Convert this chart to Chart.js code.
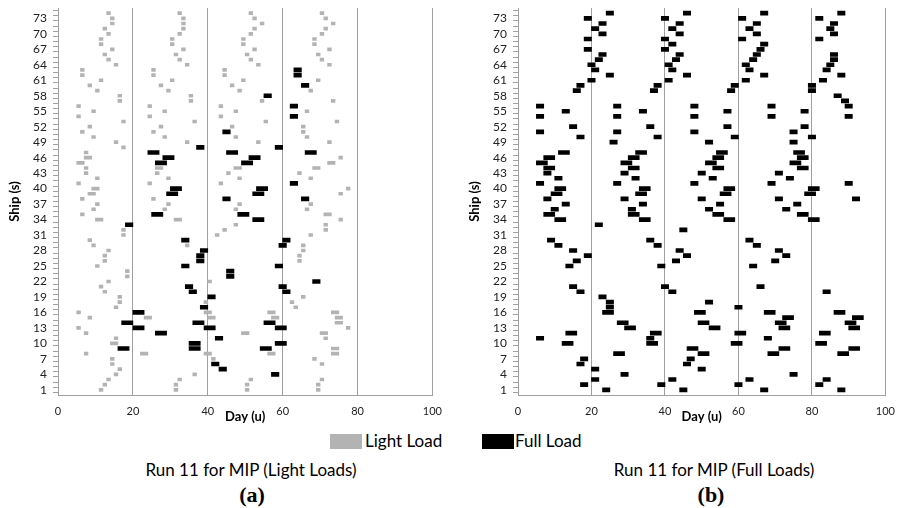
<!DOCTYPE html>
<html>
<head>
<meta charset="utf-8">
<script src="https://cdn.jsdelivr.net/npm/chart.js@4.4.1/dist/chart.umd.min.js"></script>
<style>
  body { margin: 0; background: #fff; width: 905px; height: 508px; position: relative; overflow: hidden;
         font-family: Lato, "Open Sans", sans-serif; color: #000; }
  canvas { position: absolute; top: 0; }
  .txt { position: absolute; font-size: 17px; line-height: 20px; white-space: nowrap; }
  .cap { position: absolute; font-size: 17px; line-height: 20px; white-space: nowrap; transform: translateX(-50%); }
  .sub { position: absolute; font-family: "Liberation Serif", serif; font-weight: bold; font-size: 22px;
         line-height: 26px; transform: translateX(-50%); }
  .swatch { position: absolute; width: 32px; height: 15px; top: 434px; }
</style>
</head>
<body>
<canvas id="chartA" width="452" height="425" style="left:0;"></canvas>
<canvas id="chartB" width="445" height="425" style="left:460px;"></canvas>

<div class="swatch" style="left:330px;background:#b3b3b3;"></div>
<div class="txt" style="left:365px;top:431px;">Light Load</div>
<div class="swatch" style="left:482px;background:#000;"></div>
<div class="txt" style="left:515px;top:431px;">Full Load</div>

<div class="cap" style="left:251px;top:460px;">Run 11 for MIP (Light Loads)</div>
<div class="cap" style="left:714px;top:460px;">Run 11 for MIP (Full Loads)</div>
<div class="sub" style="left:252px;top:482px;">(a)</div>
<div class="sub" style="left:711px;top:482px;">(b)</div>

<script>
/* chart data: [ship, start day, end day] */
const dayTicks = [0, 20, 40, 60, 80, 100];
const shipTicks = [1, 4, 7, 10, 13, 16, 19, 22, 25, 28, 31, 34, 37, 40, 43, 46, 49, 52, 55, 58, 61, 64, 67, 70, 73];

/* Run 11, light loads (a) - grey marks */
const lightLoadsA = [
  [74, 13, 14], [74, 32, 33], [74, 51, 52], [74, 70, 71],
  [73, 14, 15], [73, 33, 34], [73, 52, 53], [73, 71, 72],
  [72, 14, 15], [72, 33, 34], [72, 54, 55], [72, 73, 74],
  [71, 12, 13], [71, 33, 34], [71, 52, 53], [71, 71, 72],
  [70, 13, 14], [70, 32, 33], [70, 51, 52], [70, 70, 71],
  [69, 11, 12], [69, 30, 31], [69, 49, 50], [69, 68, 69],
  [68, 11, 12], [68, 30, 31], [68, 49, 50], [68, 68, 69],
  [67, 14, 15], [67, 33, 34], [67, 52, 53], [67, 72, 73],
  [66, 12, 13], [66, 31, 32], [66, 50, 51], [66, 69, 70],
  [65, 13, 14], [65, 32, 33], [65, 51, 52], [65, 70, 71],
  [64, 15, 16], [64, 34, 35], [64, 53, 54], [64, 72, 73],
  [63, 6, 7], [63, 25, 26], [63, 44, 45],
  [62, 6, 7], [62, 25, 26], [62, 44, 45],
  [61, 11, 12], [61, 30, 31], [61, 49, 50], [61, 69, 70],
  [60, 8, 9], [60, 27, 28], [60, 46, 47],
  [59, 10, 11], [59, 29, 30], [59, 48, 49], [59, 67, 68],
  [58, 16, 17], [58, 35, 36],
  [57, 16, 17], [57, 35, 36], [57, 54, 55], [57, 73, 74],
  [56, 5, 6], [56, 24, 25], [56, 43, 44],
  [55, 9, 10], [55, 28, 29], [55, 47, 48], [55, 66, 67],
  [54, 5, 6], [54, 24, 25], [54, 43, 44],
  [53, 17, 18], [53, 36, 37], [53, 55, 56], [53, 74, 75],
  [52, 8, 9], [52, 27, 28], [52, 46, 47], [52, 65, 66],
  [51, 6, 7], [51, 25, 26], [51, 65, 66],
  [50, 9, 10], [50, 28, 29], [50, 47, 48], [50, 66, 67],
  [49, 15, 16], [49, 34, 35], [49, 53, 54], [49, 72, 73],
  [48, 17, 18],
  [47, 7, 8],
  [46, 7, 9], [46, 75, 76],
  [45, 5, 7], [45, 72, 74],
  [44, 7, 8], [44, 26, 28], [44, 47, 49], [44, 68, 70],
  [43, 7, 8], [43, 26, 27], [43, 45, 46], [43, 64, 65],
  [42, 10, 11], [42, 29, 30], [42, 48, 49], [42, 67, 68],
  [41, 5, 6], [41, 24, 25], [41, 43, 44],
  [40, 9, 11], [40, 77, 78],
  [39, 8, 10], [39, 75, 76],
  [38, 6, 7], [38, 25, 26],
  [37, 10, 11], [37, 29, 30], [37, 48, 49], [37, 67, 68],
  [36, 9, 10], [36, 28, 29], [36, 47, 48], [36, 66, 67],
  [35, 6, 7], [35, 71, 73],
  [34, 10, 12], [34, 31, 33], [34, 75, 76],
  [33, 47, 48], [33, 71, 72],
  [32, 17, 18], [32, 44, 45], [32, 71, 72],
  [31, 17, 18], [31, 42, 43], [31, 67, 68],
  [30, 8, 9],
  [29, 9, 10], [29, 34, 35], [29, 65, 66],
  [28, 13, 14], [28, 65, 66],
  [27, 12, 13], [27, 64, 65],
  [26, 12, 13], [26, 64, 65],
  [25, 10, 11],
  [24, 18, 19],
  [23, 18, 19],
  [22, 13, 14], [22, 40, 41],
  [21, 11, 12],
  [20, 12, 13],
  [19, 16, 17], [19, 65, 66],
  [18, 16, 17], [18, 39, 40], [18, 62, 63],
  [17, 15, 16], [17, 63, 64],
  [16, 5, 6], [16, 39, 41], [16, 56, 58], [16, 73, 75],
  [15, 8, 9], [15, 23, 25], [15, 40, 42], [15, 57, 59], [15, 74, 76],
  [14, 74, 76],
  [13, 5, 6], [13, 77, 78],
  [12, 7, 8], [12, 49, 51], [12, 70, 72],
  [11, 15, 16], [11, 71, 72],
  [10, 14, 16],
  [9, 73, 75],
  [8, 7, 8], [8, 22, 24], [8, 39, 41], [8, 56, 58], [8, 73, 75],
  [7, 14, 15], [7, 41, 42], [7, 68, 69],
  [6, 14, 15], [6, 70, 71],
  [5, 16, 17],
  [4, 15, 16], [4, 36, 37],
  [3, 13, 14], [3, 32, 33], [3, 51, 52], [3, 70, 71],
  [2, 12, 13], [2, 31, 32], [2, 50, 51], [2, 69, 70],
  [1, 11, 12], [1, 31, 32], [1, 50, 51], [1, 69, 70]
];

/* Run 11, light loads (a) - full load trips */
const fullLoadsA = [
  [63, 63, 65], [62, 63, 65], [60, 65, 67], [58, 55, 57],
  [56, 62, 64], [54, 62, 64], [51, 44, 46],
  [48, 37, 39], [48, 58, 60],
  [47, 24, 27], [47, 45, 48], [47, 66, 69],
  [46, 28, 31], [46, 51, 54],
  [45, 26, 29], [45, 49, 52],
  [41, 62, 64],
  [40, 30, 33], [40, 53, 56],
  [39, 29, 32], [39, 52, 55],
  [38, 44, 46], [38, 65, 67],
  [35, 25, 28], [35, 48, 51],
  [34, 52, 55], [33, 18, 20],
  [30, 33, 35], [30, 60, 62],
  [29, 59, 61], [28, 38, 40], [27, 37, 39], [26, 37, 39],
  [25, 33, 35], [25, 58, 60],
  [24, 45, 47], [23, 45, 47], [22, 68, 70],
  [21, 34, 36], [21, 59, 61],
  [20, 35, 37], [20, 60, 62],
  [19, 40, 42], [17, 38, 40], [16, 20, 23],
  [14, 17, 20], [14, 36, 39], [14, 55, 58],
  [13, 20, 23], [13, 39, 42], [13, 58, 61],
  [12, 26, 29], [11, 42, 44],
  [10, 35, 38], [10, 58, 61],
  [9, 16, 19], [9, 35, 38], [9, 54, 57],
  [6, 41, 43], [5, 43, 45], [4, 57, 59]
];

/* Run 11, full loads (b) */
const fullLoadsB = [
  [74, 24, 26], [74, 45, 47], [74, 66, 68], [74, 87, 89],
  [73, 18, 20], [73, 39, 41], [73, 60, 62], [73, 81, 83],
  [72, 22, 24], [72, 43, 45], [72, 64, 66], [72, 85, 87],
  [71, 20, 22], [71, 41, 43], [71, 62, 64], [71, 84, 86],
  [70, 22, 24], [70, 43, 45], [70, 64, 66], [70, 85, 87],
  [69, 18, 20], [69, 39, 41], [69, 60, 62], [69, 81, 83],
  [68, 41, 43], [68, 66, 68],
  [67, 18, 20], [67, 39, 41], [67, 65, 67],
  [66, 22, 24], [66, 43, 45], [66, 64, 66], [66, 85, 87],
  [65, 21, 23], [65, 42, 44], [65, 63, 65], [65, 85, 87],
  [64, 19, 21], [64, 40, 42], [64, 61, 63], [64, 84, 86],
  [63, 20, 22], [63, 41, 43], [63, 62, 64], [63, 83, 85],
  [62, 24, 26], [62, 45, 47], [62, 66, 68], [62, 87, 89],
  [61, 19, 21], [61, 40, 42], [61, 61, 63], [61, 82, 84],
  [60, 16, 18], [60, 37, 39], [60, 58, 60], [60, 79, 81],
  [59, 15, 17], [59, 36, 38], [59, 57, 59], [59, 79, 81],
  [58, 86, 88], [57, 88, 90],
  [56, 5, 7], [56, 26, 28], [56, 47, 49], [56, 68, 70], [56, 89, 91],
  [55, 12, 14], [55, 33, 35], [55, 56, 58], [55, 77, 79],
  [54, 5, 7], [54, 26, 28], [54, 47, 49], [54, 68, 70], [54, 89, 91],
  [52, 14, 16], [52, 35, 37], [52, 56, 58], [52, 77, 79],
  [51, 5, 7], [51, 26, 28], [51, 47, 49], [51, 74, 76],
  [50, 16, 18], [50, 37, 39], [50, 58, 60], [50, 79, 81],
  [49, 25, 27], [49, 51, 53], [49, 74, 76],
  [47, 11, 14], [47, 32, 35], [47, 54, 57], [47, 75, 78],
  [46, 7, 10], [46, 30, 33], [46, 53, 56], [46, 76, 79],
  [45, 5, 8], [45, 28, 31], [45, 51, 54], [45, 74, 77],
  [44, 7, 10], [44, 30, 33], [44, 53, 56], [44, 76, 79],
  [43, 7, 9], [43, 28, 30], [43, 49, 51], [43, 70, 72],
  [42, 10, 12], [42, 31, 33], [42, 52, 54], [42, 73, 75],
  [41, 5, 7], [41, 26, 28], [41, 47, 49], [41, 68, 70], [41, 89, 91],
  [40, 10, 13], [40, 33, 36], [40, 56, 59], [40, 79, 82],
  [39, 9, 12], [39, 32, 35], [39, 55, 58], [39, 78, 81],
  [38, 7, 9], [38, 28, 30], [38, 49, 51], [38, 70, 72], [38, 91, 93],
  [37, 12, 14], [37, 33, 35], [37, 54, 56], [37, 75, 77],
  [36, 9, 11], [36, 30, 32], [36, 51, 53], [36, 72, 74],
  [35, 7, 10], [35, 30, 33], [35, 53, 56], [35, 76, 79],
  [34, 10, 13], [34, 33, 36], [34, 56, 59], [34, 79, 82],
  [33, 21, 23], [32, 44, 46],
  [30, 8, 10], [30, 35, 37], [30, 62, 64],
  [29, 10, 12], [29, 37, 39], [29, 64, 66],
  [28, 14, 16], [28, 43, 45], [28, 70, 72],
  [27, 18, 20], [27, 45, 47], [27, 72, 74],
  [26, 15, 17], [26, 42, 44], [26, 69, 71],
  [25, 13, 15], [25, 38, 40], [25, 63, 65],
  [21, 14, 16], [21, 39, 41], [21, 65, 67],
  [20, 16, 18], [20, 41, 43], [20, 83, 85],
  [19, 22, 24],
  [18, 24, 26], [18, 51, 53],
  [17, 24, 26], [17, 59, 61],
  [16, 23, 26], [16, 48, 51], [16, 67, 70], [16, 86, 89],
  [15, 72, 75], [15, 91, 94],
  [14, 27, 30], [14, 49, 52], [14, 70, 73], [14, 89, 92],
  [13, 29, 32], [13, 52, 55], [13, 71, 74], [13, 90, 93],
  [12, 13, 16], [12, 36, 39], [12, 59, 62], [12, 82, 85],
  [11, 5, 7], [11, 35, 37], [11, 67, 69],
  [10, 12, 15], [10, 35, 38], [10, 58, 61], [10, 81, 84],
  [9, 46, 49], [9, 71, 74], [9, 90, 93],
  [8, 26, 29], [8, 49, 52], [8, 68, 71], [8, 87, 90],
  [7, 17, 19], [7, 46, 48],
  [6, 16, 18], [6, 45, 47],
  [5, 20, 22], [5, 49, 51],
  [4, 28, 30], [4, 74, 76],
  [3, 20, 22], [3, 41, 43], [3, 62, 64], [3, 83, 85],
  [2, 17, 19], [2, 38, 40], [2, 59, 61], [2, 81, 83],
  [1, 23, 25], [1, 44, 46], [1, 66, 68], [1, 87, 89]
];

const LIGHT = "#b3b3b3";
const FULL = "#000000";
const AXIS = "#a0a0a0";
const FONT = "Lato, 'Open Sans', sans-serif";

/* turns [ship, start, end] rows into floating bar points */
const toBars = (rows) => rows.map((r) => ({ y: r[0], x: [r[1], r[2]] }));

/**
 * Builds one ship/day schedule chart
 * @param {string} id canvas id
 * @param {Array} datasets
 * @param {number} padRight
 */
const makeChart = (id, datasets, padRight) => {
  const ctx = document.getElementById(id);
  return new Chart(ctx, {
    type: "bar",
    data: { datasets: datasets },
    options: {
      indexAxis: "y",
      animation: false,
      responsive: false,
      layout: { padding: { top: 8, right: padRight, left: 0, bottom: 0 } },
      plugins: { legend: { display: false }, tooltip: { enabled: false } },
      scales: {
        x: {
          type: "linear",
          min: 0,
          max: 100,
          afterBuildTicks: (s) => { s.ticks = dayTicks.map((v) => ({ value: v })); },
          afterFit: (s) => { s.height = 30; },
          grid: { color: AXIS, drawTicks: false },
          border: { color: AXIS },
          ticks: { color: "#222", padding: 10, font: { family: FONT, size: 11 } },
          title: {
            display: true,
            text: "Day (u)",
            color: "#000",
            padding: { top: 0, bottom: 0 },
            font: { family: FONT, size: 13, weight: "bold" },
          },
        },
        y: {
          type: "linear",
          min: 0.5,
          max: 74.5,
          afterBuildTicks: (s) => {
            const list = [];
            for (let v = 1; v <= 74; v++) list.push({ value: v });
            s.ticks = list;
          },
          afterFit: (s) => {
            s.width = 58;
            s.paddingTop = 2;
            s.paddingBottom = 2;
          },
          grid: { drawOnChartArea: false, color: AXIS, tickLength: 5 },
          border: { color: AXIS },
          ticks: {
            autoSkip: false,
            padding: 6,
            color: "#222",
            font: { family: FONT, size: 12 },
            callback: (v) => (shipTicks.includes(v) ? String(v) : ""),
          },
          title: {
            display: true,
            text: "Ship (s)",
            color: "#000",
            padding: { top: 7, bottom: 0 },
            font: { family: FONT, size: 13, weight: "bold" },
          },
        },
      },
    },
  });
};

document.addEventListener("DOMContentLoaded", () => {
  try {
    makeChart("chartA", [
      { label: "Light Load", data: toBars(lightLoadsA), backgroundColor: LIGHT, barThickness: 3, grouped: false },
      { label: "Full Load", data: toBars(fullLoadsA), backgroundColor: FULL, barThickness: 4, grouped: false },
    ], 17);
    makeChart("chartB", [
      { label: "Full Load", data: toBars(fullLoadsB), backgroundColor: FULL, barThickness: 4, grouped: false },
    ], 12);
  } catch (error) {
    console.log(error);
  }
});
</script>
</body>
</html>
